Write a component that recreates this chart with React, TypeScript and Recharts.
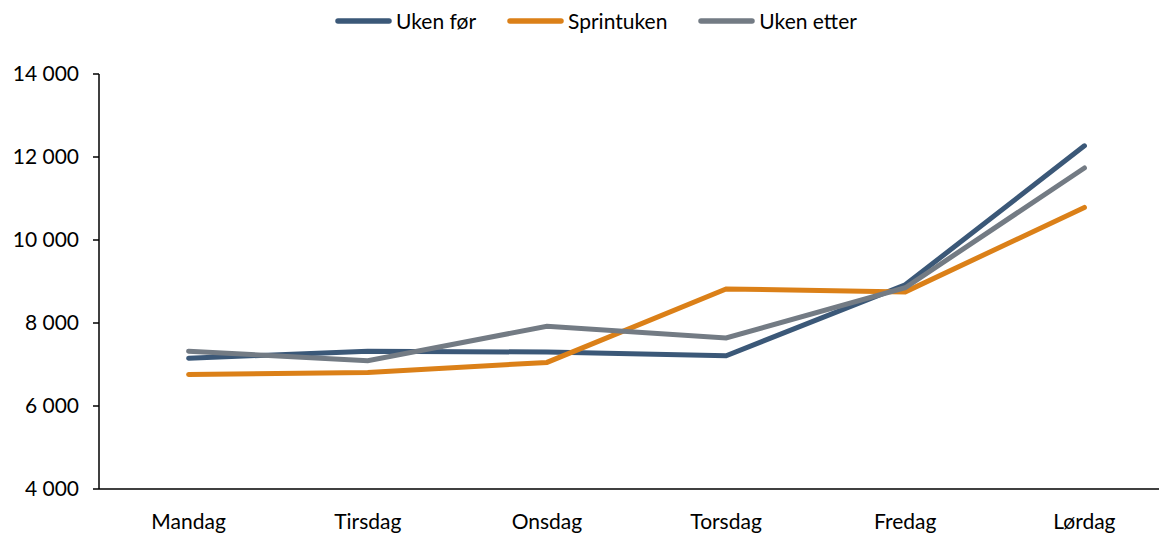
import { LineChart, Line, XAxis, YAxis } from 'recharts'

const days = ['Mandag', 'Tirsdag', 'Onsdag', 'Torsdag', 'Fredag', 'Lørdag']
const ukenFor = [7150, 7320, 7300, 7210, 8920, 12270]
const sprintuken = [6760, 6810, 7050, 8820, 8750, 10785]
const ukenEtter = [7320, 7090, 7920, 7640, 8850, 11735]
const yTicks = [4000, 6000, 8000, 10000, 12000, 14000]

const series = [
	{ key: 'ukenFor', name: 'Uken før', color: '#3B5878' },
	{ key: 'sprintuken', name: 'Sprintuken', color: '#DB8018' },
	{ key: 'ukenEtter', name: 'Uken etter', color: '#737B84' },
]

const data = days.map((day, i) => ({
	day,
	ukenFor: ukenFor[i],
	sprintuken: sprintuken[i],
	ukenEtter: ukenEtter[i],
}))

const font = "Lato, 'Open Sans', sans-serif"
const fmt = (v: number) => v.toLocaleString('en-US').replace(',', ' ')

const App = () => {
	return (
		<div style={{ position: 'absolute', left: 0, top: 0, width: 1159, height: 533, overflow: 'hidden', background: '#fff', fontFamily: font }}>
			<div style={{ position: 'absolute', top: 8, left: 334, display: 'flex', alignItems: 'center', fontSize: 21, color: '#000', whiteSpace: 'nowrap' }}>
				{series.map((s) => (
					<div key={s.key} style={{ display: 'flex', alignItems: 'center', marginRight: 30, flexShrink: 0 }}>
						<svg width={59} height={8} style={{ marginRight: 3, flexShrink: 0 }}>
							<line x1={4} y1={4} x2={55} y2={4} stroke={s.color} strokeWidth={5.5} strokeLinecap="round" />
						</svg>
						<span>{s.name}</span>
					</div>
				))}
			</div>
			<LineChart
				width={1180}
				height={533}
				data={data}
				margin={{ top: 74, right: 6, bottom: 0, left: 0 }}
				style={{ position: 'absolute', left: 0, top: 0 }}
			>
				<XAxis
					dataKey="day"
					tickLine={false}
					padding={{ left: 89.6, right: 89.6 }}
					axisLine={{ stroke: '#000', strokeWidth: 1.5 }}
					height={44}
					tick={{ fill: '#000', fontSize: 21, fontFamily: font, dy: 17 }}
				/>
				<YAxis
					domain={[4000, 14000]}
					ticks={yTicks}
					width={99}
					tickSize={6}
					tickFormatter={fmt}
					axisLine={{ stroke: '#000', strokeWidth: 1.5 }}
					tickLine={{ stroke: '#000', strokeWidth: 1.5 }}
					tick={{ fill: '#000', fontSize: 21, fontFamily: font, dx: -12 }}
				/>
				{series.map((s) => (
					<Line
						key={s.key}
						dataKey={s.key}
						name={s.name}
						stroke={s.color}
						strokeWidth={5}
						strokeLinecap="round"
						dot={false}
						activeDot={false}
						isAnimationActive={false}
					/>
				))}
			</LineChart>
		</div>
	)
}

export default App
